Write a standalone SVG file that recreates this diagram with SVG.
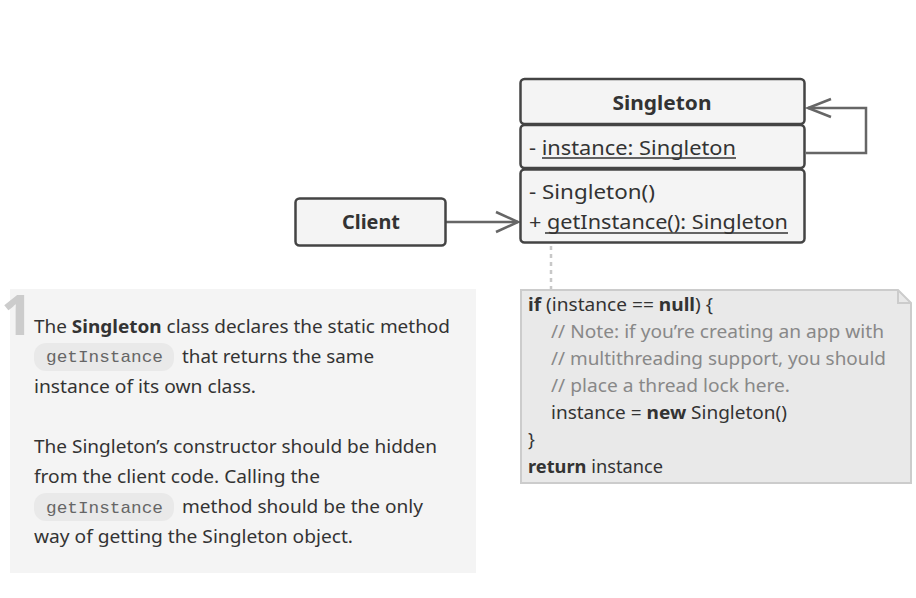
<svg xmlns="http://www.w3.org/2000/svg" width="916" height="598" viewBox="0 0 916 598">
<defs>
<style>
.box{fill:#f4f4f4;stroke:#444;stroke-width:2.5}
.t{font-family:"Noto Sans","Open Sans","Liberation Sans",sans-serif;fill:#333}
.uml{font-size:20px}
.b{font-weight:bold}
.code{font-family:"Liberation Mono","DejaVu Sans Mono",monospace;font-size:17px;fill:#666}
.pill{fill:#e9e9e9}
.cm{fill:#888}
.conn{fill:none;stroke:#666;stroke-width:2.5}
.ah{fill:none;stroke:#666;stroke-width:2.5;stroke-linejoin:miter}
</style>
</defs>
<rect width="916" height="598" fill="#ffffff"/>

<g id="description">
<rect x="10" y="289" width="466" height="284" fill="#f4f4f4"/>
<text x="1" y="335" font-family="'Noto Sans','Open Sans',sans-serif" font-size="56" font-weight="bold" fill="#cccccc">1</text>
<text class="t" x="34" y="333" font-size="18" textLength="416" lengthAdjust="spacingAndGlyphs">The <tspan class="b">Singleton</tspan> class declares the static method</text>
<rect class="pill" x="34" y="343" width="140" height="28" rx="12"/>
<text class="code" x="46" y="362" textLength="117" lengthAdjust="spacingAndGlyphs">getInstance</text>
<text class="t" x="182" y="363" font-size="18" textLength="192" lengthAdjust="spacingAndGlyphs">that returns the same</text>
<text class="t" x="34" y="393" font-size="18" textLength="222" lengthAdjust="spacingAndGlyphs">instance of its own class.</text>
<text class="t" x="34" y="453" font-size="18" textLength="403" lengthAdjust="spacingAndGlyphs">The Singleton’s constructor should be hidden</text>
<text class="t" x="34" y="483" font-size="18" textLength="286" lengthAdjust="spacingAndGlyphs">from the client code. Calling the</text>
<rect class="pill" x="34" y="493" width="140" height="28" rx="12"/>
<text class="code" x="46" y="513" textLength="117" lengthAdjust="spacingAndGlyphs">getInstance</text>
<text class="t" x="182" y="513" font-size="18" textLength="241" lengthAdjust="spacingAndGlyphs">method should be the only</text>
<text class="t" x="34" y="543" font-size="18" textLength="319" lengthAdjust="spacingAndGlyphs">way of getting the Singleton object.</text>
</g>

<g id="connectors">
<path class="conn" d="M446 222 H518"/>
<path class="ah" d="M496 212 L518 222 L496 232"/>
<path class="conn" d="M806 153 H866 V108 H808"/>
<path class="ah" d="M831 99 L808 108 L831 117"/>
<path d="M551 246 V289" fill="none" stroke="#c8c8c8" stroke-width="2.5" stroke-dasharray="4,4"/>
</g>

<g id="client">
<rect class="box" x="295.5" y="198.5" width="150" height="47" rx="4"/>
<text class="t uml b" x="371" y="229" text-anchor="middle" textLength="58" lengthAdjust="spacingAndGlyphs">Client</text>
</g>

<g id="singleton">
<rect class="box" x="520.5" y="79" width="284" height="45" rx="4"/>
<rect class="box" x="520.5" y="125" width="284" height="43" rx="4"/>
<rect class="box" x="520.5" y="169.5" width="284" height="73" rx="4"/>
<text class="t uml b" x="662" y="110" text-anchor="middle" textLength="99" lengthAdjust="spacingAndGlyphs">Singleton</text>
<text class="t uml" x="529" y="155" textLength="207" lengthAdjust="spacingAndGlyphs">- instance: Singleton</text>
<line x1="542" y1="158" x2="736" y2="158" stroke="#333" stroke-width="1.3"/>
<text class="t uml" x="529" y="199" textLength="126" lengthAdjust="spacingAndGlyphs">- Singleton()</text>
<text class="t uml" x="529" y="229" textLength="259" lengthAdjust="spacingAndGlyphs">+ getInstance(): Singleton</text>
<line x1="545" y1="233" x2="788" y2="233" stroke="#333" stroke-width="1.3"/>
</g>

<g id="note">
<path d="M521 290 H898 L911 303 V483 H521 Z" fill="#e9e9e9" stroke="#cccccc" stroke-width="2"/>
<path d="M898 290 V303 H911" fill="none" stroke="#cccccc" stroke-width="2"/>
<text class="t" x="528" y="311" font-size="18" textLength="185" lengthAdjust="spacingAndGlyphs"><tspan class="b">if</tspan> (instance == <tspan class="b">null</tspan>) {</text>
<text class="t cm" x="551" y="338" font-size="18" textLength="333" lengthAdjust="spacingAndGlyphs">// Note: if you’re creating an app with</text>
<text class="t cm" x="551" y="365" font-size="18" textLength="335" lengthAdjust="spacingAndGlyphs">// multithreading support, you should</text>
<text class="t cm" x="551" y="392" font-size="18" textLength="239" lengthAdjust="spacingAndGlyphs">// place a thread lock here.</text>
<text class="t" x="551" y="419" font-size="18" textLength="236" lengthAdjust="spacingAndGlyphs">instance = <tspan class="b">new</tspan> Singleton()</text>
<text class="t" x="528" y="446" font-size="18">}</text>
<text class="t" x="528" y="473" font-size="18" textLength="135" lengthAdjust="spacingAndGlyphs"><tspan class="b">return</tspan> instance</text>
</g>
</svg>
